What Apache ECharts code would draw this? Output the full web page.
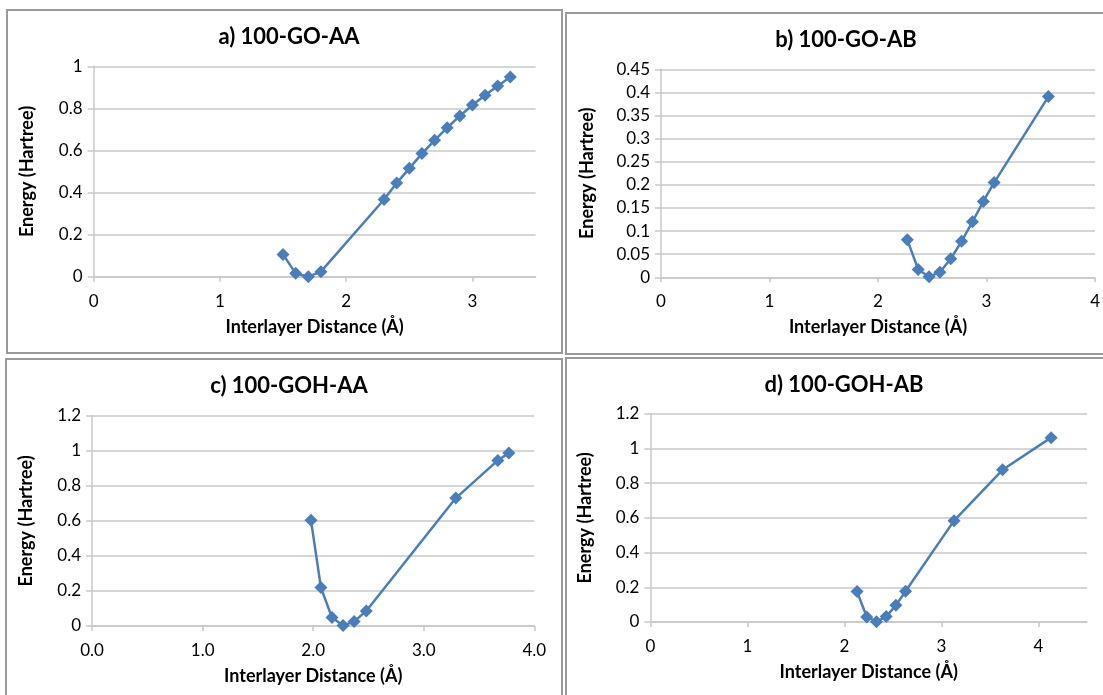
<!DOCTYPE html>
<html>
<head>
<meta charset="utf-8">
<script src="https://cdn.jsdelivr.net/npm/echarts@6/dist/echarts.min.js"></script>
<style>html,body{margin:0;padding:0;background:#fff}#c{width:1103px;height:695px}</style>
</head>
<body>
<div id="c"></div>
<script>
// Panel titles
const titles = ['a) 100-GO-AA', 'b) 100-GO-AB', 'c) 100-GOH-AA', 'd) 100-GOH-AB'];
const xName = 'Interlayer Distance (Å)';
const yName = 'Energy (Hartree)';

// a) 100-GO-AA
const aX = [1.5, 1.6, 1.7, 1.8, 2.3, 2.4, 2.5, 2.6, 2.7, 2.8, 2.9, 3.0, 3.1, 3.2, 3.3];
const aY = [0.106, 0.016, 0.0, 0.024, 0.367, 0.445, 0.515, 0.585, 0.648, 0.708, 0.764, 0.816, 0.862, 0.906, 0.949];
// b) 100-GO-AB
const bX = [2.27, 2.37, 2.47, 2.57, 2.67, 2.77, 2.87, 2.97, 3.07, 3.57];
const bY = [0.081, 0.017, 0.001, 0.011, 0.040, 0.078, 0.120, 0.164, 0.205, 0.391];
// c) 100-GOH-AA
const cX = [1.98, 2.07, 2.17, 2.27, 2.37, 2.48, 3.29, 3.67, 3.77];
const cY = [0.603, 0.219, 0.048, 0.003, 0.025, 0.086, 0.730, 0.945, 0.987];
// d) 100-GOH-AB
const dX = [2.13, 2.23, 2.33, 2.43, 2.53, 2.63, 3.13, 3.63, 4.13];
const dY = [0.175, 0.029, 0.002, 0.031, 0.096, 0.177, 0.584, 0.877, 1.062];

// axis ranges [min, max, interval]
const xRanges = [[0, 3.5, 1], [0, 4, 1], [0, 4, 1], [0, 4.5, 1]];
const yRanges = [[0, 1, 0.2], [0, 0.45, 0.05], [0, 1.2, 0.2], [0, 1.2, 0.2]];

const FONT = 'Lato';
const GRAY = '#c8c8c8';
const BLUE = '#4a7ebb';

const grids = [
  {left: 93.6, top: 66.3, width: 442, height: 210.4},
  {left: 661, top: 69.3, width: 434.7, height: 208},
  {left: 92.1, top: 415.7, width: 442.2, height: 210.3},
  {left: 650.4, top: 413.7, width: 436.6, height: 208.3}
];
const titlePos = [[284, 21], [841, 24], [284, 370], [839, 369]];
const yGaps = [57, 65, 57, 56];
const xFmt = [
  v => (Math.abs(v % 1) < 1e-9 ? String(v) : ''),
  v => (Math.abs(v % 1) < 1e-9 ? String(v) : ''),
  v => (Math.abs(v % 1) < 1e-9 ? v.toFixed(1) : ''),
  v => (Math.abs(v % 1) < 1e-9 ? String(v) : '')
];
const datas = [[aX, aY], [bX, bY], [cX, cY], [dX, dY]];

const chart = echarts.init(document.getElementById('c'), null, {renderer: 'canvas'});
const option = {
  backgroundColor: '#fff',
  animation: false,
  title: titles.map((t, i) => ({
    text: t, left: titlePos[i][0], top: titlePos[i][1], textAlign: 'center',
    textStyle: {fontFamily: FONT, fontWeight: 'bold', fontSize: 22, color: '#000'}
  })),
  grid: grids.map(g => Object.assign({containLabel: false}, g)),
  xAxis: xRanges.map((r, i) => ({
    type: 'value', gridIndex: i, min: r[0], max: r[1], interval: r[2],
    name: xName, nameLocation: 'middle', nameGap: 41,
    nameTextStyle: {fontFamily: FONT, fontWeight: 'bold', fontSize: 18, color: '#000'},
    axisLine: {show: true, lineStyle: {color: GRAY, width: 1.5}},
    axisTick: {show: true, length: 5, lineStyle: {color: GRAY, width: 1.5}},
    axisLabel: {fontFamily: FONT, fontSize: 17, color: '#000', margin: 16, formatter: xFmt[i], showMaxLabel: r[1] % 1 === 0},
    splitLine: {show: false}
  })),
  yAxis: yRanges.map((r, i) => ({
    type: 'value', gridIndex: i, min: r[0], max: r[1], interval: r[2],
    name: yName, nameLocation: 'middle', nameGap: yGaps[i], nameRotate: 90,
    nameTextStyle: {fontFamily: FONT, fontWeight: 'bold', fontSize: 18, color: '#000'},
    axisLine: {show: true, lineStyle: {color: GRAY, width: 1.5}},
    axisTick: {show: true, length: 6, lineStyle: {color: GRAY, width: 1.5}},
    axisLabel: {fontFamily: FONT, fontSize: 17, color: '#000', margin: 11,
      formatter: v => String(+v.toFixed(2))},
    splitLine: {show: true, lineStyle: {color: GRAY, width: 1.5}}
  })),
  series: datas.map((d, i) => ({
    type: 'line', xAxisIndex: i, yAxisIndex: i,
    data: d[0].map((x, k) => [x, d[1][k]]),
    symbol: 'diamond', symbolSize: 13,
    lineStyle: {color: BLUE, width: 2.5},
    itemStyle: {color: BLUE},
    z: 3
  })),
  graphic: [
    {type: 'rect', shape: {x: 7, y: 10, width: 555, height: 343}, style: {fill: 'none', stroke: '#9a9a9a', lineWidth: 2}},
    {type: 'rect', shape: {x: 566, y: 13, width: 560, height: 341}, style: {fill: 'none', stroke: '#9a9a9a', lineWidth: 2}},
    {type: 'rect', shape: {x: 6, y: 359, width: 556, height: 360}, style: {fill: 'none', stroke: '#9a9a9a', lineWidth: 2}},
    {type: 'rect', shape: {x: 566, y: 358, width: 560, height: 360}, style: {fill: 'none', stroke: '#9a9a9a', lineWidth: 2}}
  ]
};
chart.setOption(option);
</script>
</body>
</html>
